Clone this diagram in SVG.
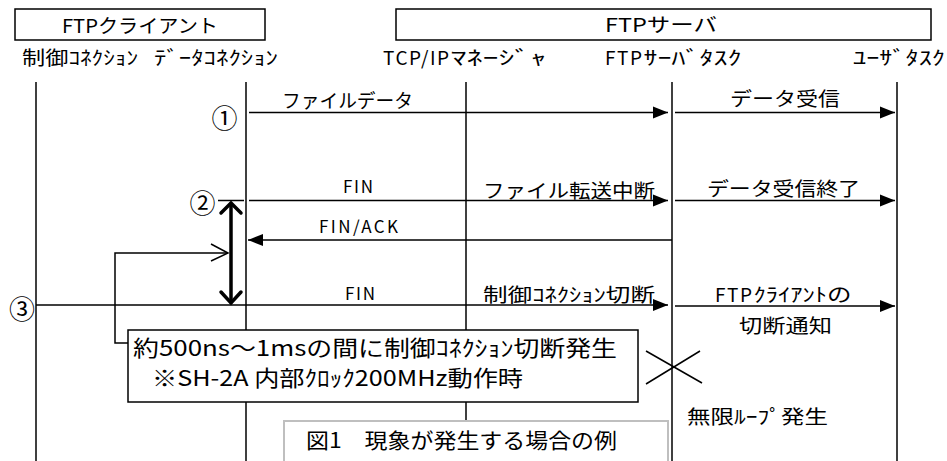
<svg xmlns="http://www.w3.org/2000/svg" width="947" height="461" viewBox="0 0 947 461">
<style>
text{font-family:"Noto Sans CJK JP","Noto Sans",sans-serif;fill:#000;}
.t18{font-size:19px;}
.lat{font-size:17px;}
.big{font-size:22px;}
.num{font-size:26px;text-anchor:middle;dominant-baseline:central;}
.ln{stroke:#000;stroke-width:1.5;fill:none;}
.box{stroke:#000;stroke-width:1.5;fill:#fff;}
.thick{stroke:#000;stroke-width:3.5;fill:none;stroke-linecap:round;stroke-linejoin:miter;}
</style>
<defs>
<marker id="ah" markerUnits="userSpaceOnUse" markerWidth="16" markerHeight="14" viewBox="0 0 16 14" refX="15" refY="7" orient="auto">
<path d="M0,1 L15,7 L0,13 Z" fill="#000"/>
</marker>
</defs>
<rect width="947" height="461" fill="#fff"/>

<g id="client-header">
<rect class="box" x="15" y="9" width="250" height="31"/>
<text class="t18" x="62" y="33" textLength="156" lengthAdjust="spacingAndGlyphs">FTPクライアント</text>
</g>
<g id="server-header">
<rect class="box" x="396" y="9" width="535" height="31"/>
<text class="t18" x="605" y="32" textLength="112" lengthAdjust="spacingAndGlyphs">FTPサーバ</text>
</g>

<g id="lifeline-control">
<text class="t18" x="22" y="65" textLength="116" lengthAdjust="spacingAndGlyphs">制御ｺﾈｸｼｮﾝ</text>
<line class="ln" x1="36" y1="82" x2="36" y2="461"/>
</g>
<g id="lifeline-data">
<text class="t18" x="154" y="65" textLength="124" lengthAdjust="spacingAndGlyphs">ﾃﾞｰﾀｺﾈｸｼｮﾝ</text>
<line class="ln" x1="246" y1="82" x2="246" y2="461"/>
</g>
<g id="lifeline-tcpip">
<text class="t18" x="383" y="65"><tspan textLength="66">TCP/IP</tspan><tspan textLength="96" lengthAdjust="spacingAndGlyphs">ﾏﾈｰｼﾞｬ</tspan></text>
<line class="ln" x1="466" y1="82" x2="466" y2="461"/>
</g>
<g id="lifeline-ftpserver">
<text class="t18" x="605" y="65"><tspan textLength="37">FTP</tspan><tspan textLength="98" lengthAdjust="spacingAndGlyphs">ｻｰﾊﾞﾀｽｸ</tspan></text>
<line class="ln" x1="672" y1="82" x2="672" y2="461"/>
</g>
<g id="lifeline-user">
<text class="t18" x="853" y="65" textLength="92" lengthAdjust="spacingAndGlyphs">ﾕｰｻﾞﾀｽｸ</text>
<line class="ln" x1="897" y1="82" x2="897" y2="461"/>
</g>

<g id="connectors">
<line class="ln" x1="249" y1="112.5" x2="668" y2="112.5" marker-end="url(#ah)"/>
<line class="ln" x1="675" y1="112.5" x2="895" y2="112.5" marker-end="url(#ah)"/>
<line class="ln" x1="249" y1="200.5" x2="668" y2="200.5" marker-end="url(#ah)"/>
<line class="ln" x1="675" y1="200.5" x2="895" y2="200.5" marker-end="url(#ah)"/>
<line class="ln" x1="672" y1="240" x2="248" y2="240" marker-end="url(#ah)"/>
<line class="ln" x1="36" y1="305" x2="668" y2="305" marker-end="url(#ah)"/>
<line class="ln" x1="675" y1="306" x2="895" y2="306" marker-end="url(#ah)"/>
<line class="ln" x1="218" y1="200.5" x2="244" y2="200.5"/>
<line class="thick" x1="231" y1="204" x2="231" y2="302"/>
<polyline class="thick" points="221,213 231,203 241,213"/>
<polyline class="thick" points="221,292 231,303 241,292"/>
<polyline class="ln" points="128,343 115,343 115,253 228,253"/>
<polyline class="ln" points="211,244 228,253 211,261"/>
</g>

<g id="labels">
<text class="t18" x="282" y="108" textLength="131" lengthAdjust="spacingAndGlyphs">ファイルデータ</text>
<text class="t18" x="730" y="106" textLength="110" lengthAdjust="spacingAndGlyphs">データ受信</text>
<text class="lat" x="343" y="193" textLength="30">FIN</text>
<text class="t18" x="483" y="198" textLength="172" lengthAdjust="spacingAndGlyphs">ファイル転送中断</text>
<text class="t18" x="707" y="196" textLength="153" lengthAdjust="spacingAndGlyphs">データ受信終了</text>
<text class="lat" x="319" y="233" textLength="79">FIN/ACK</text>
<text class="lat" x="345" y="300" textLength="30">FIN</text>
<text class="t18" x="483" y="302" textLength="172" lengthAdjust="spacingAndGlyphs">制御ｺﾈｸｼｮﾝ切断</text>
<text class="t18" x="715" y="302"><tspan textLength="37">FTP</tspan><tspan textLength="98" lengthAdjust="spacingAndGlyphs">ｸﾗｲｱﾝﾄの</tspan></text>
<text class="t18" x="739" y="333" textLength="93" lengthAdjust="spacingAndGlyphs">切断通知</text>
<text class="num" x="224.5" y="116">①</text>
<text class="num" x="202.5" y="201">②</text>
<text class="num" x="22" y="307">③</text>
</g>

<g id="callout">
<rect class="box" x="128" y="330" width="510" height="72"/>
<text class="big" x="133" y="356" textLength="484" lengthAdjust="spacingAndGlyphs">約500ns～1msの間に制御ｺﾈｸｼｮﾝ切断発生</text>
<text class="big" x="152" y="386" textLength="371" lengthAdjust="spacingAndGlyphs">※SH-2A 内部ｸﾛｯｸ200MHz動作時</text>
</g>

<g id="infinite-loop">
<line class="ln" x1="646" y1="351" x2="702" y2="383"/>
<line class="ln" x1="646" y1="384" x2="700" y2="351"/>
<text class="t18" x="687" y="424" textLength="141" lengthAdjust="spacingAndGlyphs">無限ﾙｰﾌﾟ発生</text>
</g>

<g id="caption">
<rect x="284" y="421" width="384" height="50" fill="#fff" stroke="#bfbfbf" stroke-width="2"/>
<text x="306" y="448" style="font-size:21px" textLength="311" lengthAdjust="spacingAndGlyphs">図1　現象が発生する場合の例</text>
</g>
</svg>
